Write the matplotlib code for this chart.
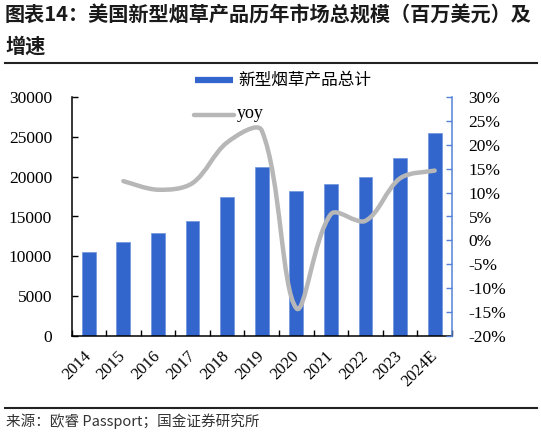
import numpy as np
import matplotlib
matplotlib.use("Agg")
import matplotlib.pyplot as plt
from matplotlib.path import Path
from matplotlib.patches import PathPatch
from matplotlib.lines import Line2D

# 数据
years = ["2014", "2015", "2016", "2017", "2018", "2019", "2020", "2021", "2022", "2023", "2024E"]
sales = [10500, 11800, 12900, 14400, 17400, 21200, 18200, 19100, 19900, 22300, 25500]
yoy_years = ["2015", "2016", "2017", "2018", "2019", "2020", "2021", "2022", "2023", "2024E"]
yoy = [12.4, 10.6, 12.0, 20.5, 23.0, -14.2, 5.5, 4.1, 13.0, 14.6]

title1 = "图表14：美国新型烟草产品历年市场总规模（百万美元）及"
title2 = "增速"
source = "来源：欧睿 Passport；国金证券研究所"

W, H = 541, 436
bar_color = "#3366CC"
line_color = "#B7B7B7"
spine_blue = "#5584D6"
cjk = ["Noto Sans CJK SC", "DejaVu Sans"]
serif = "Liberation Serif"

fig = plt.figure(figsize=(W / 100, H / 100), dpi=100)


def fx(px):
    return px / W


def fy(py):
    return 1 - py / H


ax = fig.add_axes([fx(71.5), fy(336), fx(452) - fx(71.5), fy(97) - fy(336)])
ax2 = ax.twinx()

x = np.arange(len(years))
ax.bar(x, sales, width=0.4, color=bar_color, edgecolor="#6f93db", linewidth=0.5, zorder=2)
ax.set_xlim(-0.5, len(years) - 0.5)
ax.set_ylim(0, 30000)
ax.set_yticks(range(0, 30001, 5000))
ax.set_yticklabels([str(v) for v in range(0, 30001, 5000)], fontfamily=serif, fontsize=12.5)
ax.tick_params(axis="y", direction="in", length=4, width=1, pad=14)
ax.set_xticks(x)
ax.set_xticklabels(years, rotation=45, ha="right", va="center", rotation_mode="anchor",
                   fontfamily=serif, fontsize=12)
ax.tick_params(axis="x", length=0, pad=13)
ax.set_xticks(np.arange(len(years) + 1) - 0.5, minor=True)
ax.tick_params(axis="x", which="minor", direction="in", length=4, width=1)
for s in ["top", "right"]:
    ax.spines[s].set_visible(False)
ax.spines["left"].set_linewidth(1.1)
ax.spines["bottom"].set_linewidth(1.1)

ax2.set_ylim(-20, 30)

# yoy 平滑曲线（类似 Excel 的平滑线，按弦长分配控制点）
xi = np.array([years.index(y) for y in yoy_years], dtype=float)
yi = np.array(yoy, dtype=float)
sx = 34.6   # 每个类别的像素宽度
sy = 4.78   # 每 1% 的像素高度
n = len(xi)


def dist(i, j):
    return np.hypot((xi[j] - xi[i]) * sx, (yi[j] - yi[i]) * sy)


fwd, bwd = [], []
for i in range(n):
    i0, i2 = max(i - 1, 0), min(i + 1, n - 1)
    vx, vy = xi[i2] - xi[i0], yi[i2] - yi[i0]
    d01 = dist(i0, i) if i > 0 else 0.0
    d12 = dist(i, i2) if i < n - 1 else 0.0
    tot = d01 + d12
    kf = d12 / tot / 3 if tot else 0
    kb = d01 / tot / 3 if tot else 0
    if i == 0 or i == n - 1:
        kf, kb = kf / 2, kb / 2
    fwd.append((xi[i] + vx * kf, yi[i] + vy * kf))
    bwd.append((xi[i] - vx * kb, yi[i] - vy * kb))

verts = [(xi[0], yi[0])]
codes = [Path.MOVETO]
for i in range(n - 1):
    verts += [fwd[i], bwd[i + 1], (xi[i + 1], yi[i + 1])]
    codes += [Path.CURVE4] * 3
ax2.add_patch(PathPatch(Path(verts, codes), facecolor="none", edgecolor=line_color,
                        linewidth=3.2, capstyle="round", joinstyle="round", zorder=3))

ax2.set_yticks(range(-20, 31, 5))
ax2.set_yticklabels([f"{v}%" for v in range(-20, 31, 5)], fontfamily=serif, fontsize=12.5)
ax2.tick_params(axis="y", direction="in", length=4, width=1, color=spine_blue, pad=12)
for s in ["top", "left", "bottom"]:
    ax2.spines[s].set_visible(False)
ax2.spines["right"].set_color(spine_blue)
ax2.spines["right"].set_linewidth(1.1)

# 图例
fig.add_artist(Line2D([fx(195), fx(233)], [fy(80.5), fy(80.5)], color=bar_color,
                      linewidth=4.5, solid_capstyle="butt"))
fig.text(fx(238), fy(80.5), "新型烟草产品总计", family=cjk, fontsize=12, va="center", ha="left")
fig.add_artist(Line2D([fx(194), fx(234)], [fy(115), fy(115)], color=line_color,
                      linewidth=3.2, solid_capstyle="round"))
fig.text(fx(237), fy(113), "yoy", family=serif, fontsize=13, va="center", ha="left")

# 标题与来源
fig.text(fx(5), fy(15), title1, family=cjk, fontsize=14.5, fontweight="bold",
         style="italic", color="#1a1a1a", va="center", ha="left")
fig.text(fx(5), fy(46), title2, family=cjk, fontsize=14.5, fontweight="bold",
         style="italic", color="#1a1a1a", va="center", ha="left")
fig.add_artist(Line2D([fx(5), fx(537)], [fy(63), fy(63)], color="#222222", linewidth=1.5))
fig.add_artist(Line2D([fx(5), fx(537)], [fy(407.5), fy(407.5)], color="#222222", linewidth=1.5))
fig.text(fx(6), fy(421), source, family=cjk, fontsize=10.5, color="#333333",
         va="center", ha="left")

fig.savefig("out.png", dpi=100)
